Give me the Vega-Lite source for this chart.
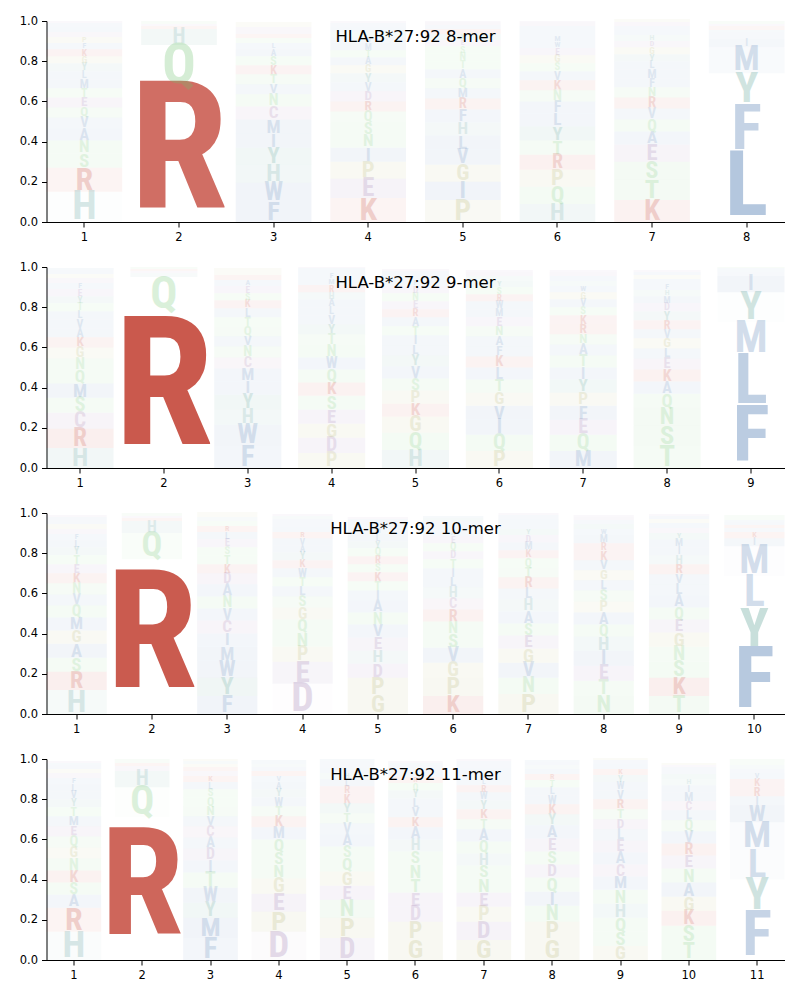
{
"$schema": "https://vega.github.io/schema/vega-lite/v6.json",
"background": "white",
"padding": {"left": 18.5, "top": 15, "right": 0, "bottom": 0},
"spacing": 45,
"bounds": "flush",
"datasets": {
"d8": [
{"pos":1,"aa":"H","p":0.15},{"pos":1,"aa":"R","p":0.12},{"pos":1,"aa":"S","p":0.07},{"pos":1,"aa":"N","p":0.065},{"pos":1,"aa":"A","p":0.06},{"pos":1,"aa":"V","p":0.055},{"pos":1,"aa":"Q","p":0.05},{"pos":1,"aa":"E","p":0.05},{"pos":1,"aa":"T","p":0.045},{"pos":1,"aa":"M","p":0.045},{"pos":1,"aa":"L","p":0.04},{"pos":1,"aa":"Y","p":0.04},{"pos":1,"aa":"G","p":0.035},{"pos":1,"aa":"K","p":0.035},{"pos":1,"aa":"F","p":0.03},{"pos":1,"aa":"P","p":0.03},{"pos":1,"aa":"D","p":0.025},{"pos":1,"aa":"I","p":0.025},{"pos":1,"aa":"W","p":0.02},{"pos":1,"aa":"C","p":0.01},
{"pos":2,"aa":"R","p":0.67},{"pos":2,"aa":"Q","p":0.21},{"pos":2,"aa":"H","p":0.08},{"pos":2,"aa":"K","p":0.015},{"pos":2,"aa":"E","p":0.01},{"pos":2,"aa":"N","p":0.01},{"pos":2,"aa":"S","p":0.005},
{"pos":3,"aa":"F","p":0.1},{"pos":3,"aa":"W","p":0.095},{"pos":3,"aa":"H","p":0.09},{"pos":3,"aa":"Y","p":0.085},{"pos":3,"aa":"I","p":0.07},{"pos":3,"aa":"M","p":0.07},{"pos":3,"aa":"C","p":0.065},{"pos":3,"aa":"N","p":0.06},{"pos":3,"aa":"V","p":0.05},{"pos":3,"aa":"T","p":0.05},{"pos":3,"aa":"K","p":0.045},{"pos":3,"aa":"S","p":0.045},{"pos":3,"aa":"A","p":0.035},{"pos":3,"aa":"L","p":0.03},{"pos":3,"aa":"Q","p":0.025},{"pos":3,"aa":"R","p":0.02},{"pos":3,"aa":"E","p":0.02},{"pos":3,"aa":"D","p":0.015},{"pos":3,"aa":"G","p":0.015},{"pos":3,"aa":"P","p":0.01},
{"pos":4,"aa":"K","p":0.12},{"pos":4,"aa":"E","p":0.095},{"pos":4,"aa":"P","p":0.085},{"pos":4,"aa":"I","p":0.07},{"pos":4,"aa":"N","p":0.065},{"pos":4,"aa":"S","p":0.06},{"pos":4,"aa":"Q","p":0.055},{"pos":4,"aa":"R","p":0.05},{"pos":4,"aa":"D","p":0.05},{"pos":4,"aa":"V","p":0.045},{"pos":4,"aa":"Y","p":0.045},{"pos":4,"aa":"G","p":0.04},{"pos":4,"aa":"A","p":0.04},{"pos":4,"aa":"T","p":0.035},{"pos":4,"aa":"M","p":0.035},{"pos":4,"aa":"W","p":0.03},{"pos":4,"aa":"H","p":0.025},{"pos":4,"aa":"L","p":0.025},{"pos":4,"aa":"F","p":0.02},{"pos":4,"aa":"C","p":0.01},
{"pos":5,"aa":"P","p":0.11},{"pos":5,"aa":"I","p":0.09},{"pos":5,"aa":"G","p":0.085},{"pos":5,"aa":"V","p":0.075},{"pos":5,"aa":"L","p":0.07},{"pos":5,"aa":"H","p":0.065},{"pos":5,"aa":"F","p":0.065},{"pos":5,"aa":"R","p":0.055},{"pos":5,"aa":"M","p":0.05},{"pos":5,"aa":"Q","p":0.05},{"pos":5,"aa":"A","p":0.045},{"pos":5,"aa":"T","p":0.04},{"pos":5,"aa":"N","p":0.04},{"pos":5,"aa":"S","p":0.035},{"pos":5,"aa":"E","p":0.03},{"pos":5,"aa":"Y","p":0.03},{"pos":5,"aa":"K","p":0.025},{"pos":5,"aa":"W","p":0.02},{"pos":5,"aa":"D","p":0.015},{"pos":5,"aa":"C","p":0.005},
{"pos":6,"aa":"H","p":0.09},{"pos":6,"aa":"Q","p":0.085},{"pos":6,"aa":"P","p":0.085},{"pos":6,"aa":"R","p":0.075},{"pos":6,"aa":"T","p":0.07},{"pos":6,"aa":"Y","p":0.07},{"pos":6,"aa":"L","p":0.065},{"pos":6,"aa":"F","p":0.06},{"pos":6,"aa":"N","p":0.055},{"pos":6,"aa":"K","p":0.05},{"pos":6,"aa":"V","p":0.045},{"pos":6,"aa":"S","p":0.04},{"pos":6,"aa":"G","p":0.04},{"pos":6,"aa":"E","p":0.035},{"pos":6,"aa":"W","p":0.03},{"pos":6,"aa":"M","p":0.03},{"pos":6,"aa":"A","p":0.025},{"pos":6,"aa":"I","p":0.025},{"pos":6,"aa":"D","p":0.02},{"pos":6,"aa":"C","p":0.005},
{"pos":7,"aa":"K","p":0.11},{"pos":7,"aa":"T","p":0.1},{"pos":7,"aa":"S","p":0.09},{"pos":7,"aa":"E","p":0.085},{"pos":7,"aa":"A","p":0.065},{"pos":7,"aa":"Q","p":0.06},{"pos":7,"aa":"V","p":0.055},{"pos":7,"aa":"R","p":0.055},{"pos":7,"aa":"N","p":0.05},{"pos":7,"aa":"F","p":0.045},{"pos":7,"aa":"M","p":0.045},{"pos":7,"aa":"L","p":0.04},{"pos":7,"aa":"Y","p":0.035},{"pos":7,"aa":"G","p":0.035},{"pos":7,"aa":"D","p":0.03},{"pos":7,"aa":"H","p":0.03},{"pos":7,"aa":"I","p":0.025},{"pos":7,"aa":"W","p":0.02},{"pos":7,"aa":"C","p":0.02},{"pos":7,"aa":"P","p":0.015},
{"pos":8,"aa":"L","p":0.34},{"pos":8,"aa":"F","p":0.24},{"pos":8,"aa":"Y","p":0.16},{"pos":8,"aa":"M","p":0.13},{"pos":8,"aa":"I","p":0.04},{"pos":8,"aa":"W","p":0.02},{"pos":8,"aa":"V","p":0.015},{"pos":8,"aa":"A","p":0.01},{"pos":8,"aa":"R","p":0.01},{"pos":8,"aa":"K","p":0.01},{"pos":8,"aa":"C","p":0.01},{"pos":8,"aa":"T","p":0.01},{"pos":8,"aa":"S","p":0.005}
],
"d9": [
{"pos":1,"aa":"H","p":0.1},{"pos":1,"aa":"R","p":0.095},{"pos":1,"aa":"C","p":0.08},{"pos":1,"aa":"S","p":0.075},{"pos":1,"aa":"M","p":0.07},{"pos":1,"aa":"Q","p":0.065},{"pos":1,"aa":"N","p":0.06},{"pos":1,"aa":"G","p":0.055},{"pos":1,"aa":"K","p":0.05},{"pos":1,"aa":"A","p":0.045},{"pos":1,"aa":"V","p":0.045},{"pos":1,"aa":"L","p":0.04},{"pos":1,"aa":"T","p":0.04},{"pos":1,"aa":"Y","p":0.035},{"pos":1,"aa":"E","p":0.035},{"pos":1,"aa":"F","p":0.03},{"pos":1,"aa":"D","p":0.025},{"pos":1,"aa":"P","p":0.02},{"pos":1,"aa":"I","p":0.02},{"pos":1,"aa":"W","p":0.01},
{"pos":2,"aa":"R","p":0.78},{"pos":2,"aa":"Q","p":0.17},{"pos":2,"aa":"H","p":0.02},{"pos":2,"aa":"E","p":0.01},{"pos":2,"aa":"K","p":0.01},{"pos":2,"aa":"S","p":0.01},
{"pos":3,"aa":"F","p":0.11},{"pos":3,"aa":"W","p":0.105},{"pos":3,"aa":"H","p":0.075},{"pos":3,"aa":"Y","p":0.075},{"pos":3,"aa":"I","p":0.065},{"pos":3,"aa":"M","p":0.065},{"pos":3,"aa":"C","p":0.055},{"pos":3,"aa":"N","p":0.055},{"pos":3,"aa":"V","p":0.05},{"pos":3,"aa":"Q","p":0.05},{"pos":3,"aa":"T","p":0.045},{"pos":3,"aa":"L","p":0.045},{"pos":3,"aa":"K","p":0.04},{"pos":3,"aa":"S","p":0.035},{"pos":3,"aa":"E","p":0.035},{"pos":3,"aa":"A","p":0.03},{"pos":3,"aa":"R","p":0.025},{"pos":3,"aa":"G","p":0.02},{"pos":3,"aa":"P","p":0.015},
{"pos":4,"aa":"P","p":0.075},{"pos":4,"aa":"D","p":0.075},{"pos":4,"aa":"G","p":0.07},{"pos":4,"aa":"E","p":0.07},{"pos":4,"aa":"S","p":0.07},{"pos":4,"aa":"K","p":0.065},{"pos":4,"aa":"Q","p":0.065},{"pos":4,"aa":"W","p":0.06},{"pos":4,"aa":"N","p":0.06},{"pos":4,"aa":"T","p":0.055},{"pos":4,"aa":"Y","p":0.05},{"pos":4,"aa":"V","p":0.045},{"pos":4,"aa":"L","p":0.04},{"pos":4,"aa":"A","p":0.04},{"pos":4,"aa":"H","p":0.035},{"pos":4,"aa":"R","p":0.035},{"pos":4,"aa":"M","p":0.03},{"pos":4,"aa":"F","p":0.03},{"pos":4,"aa":"I","p":0.025},{"pos":4,"aa":"C","p":0.005},
{"pos":5,"aa":"H","p":0.09},{"pos":5,"aa":"Q","p":0.085},{"pos":5,"aa":"G","p":0.08},{"pos":5,"aa":"K","p":0.065},{"pos":5,"aa":"P","p":0.065},{"pos":5,"aa":"S","p":0.06},{"pos":5,"aa":"V","p":0.06},{"pos":5,"aa":"Y","p":0.055},{"pos":5,"aa":"L","p":0.05},{"pos":5,"aa":"I","p":0.05},{"pos":5,"aa":"T","p":0.045},{"pos":5,"aa":"A","p":0.045},{"pos":5,"aa":"R","p":0.04},{"pos":5,"aa":"E","p":0.04},{"pos":5,"aa":"N","p":0.04},{"pos":5,"aa":"D","p":0.035},{"pos":5,"aa":"F","p":0.03},{"pos":5,"aa":"M","p":0.025},{"pos":5,"aa":"W","p":0.02},{"pos":5,"aa":"C","p":0.01},
{"pos":6,"aa":"P","p":0.085},{"pos":6,"aa":"Q","p":0.08},{"pos":6,"aa":"I","p":0.075},{"pos":6,"aa":"V","p":0.07},{"pos":6,"aa":"G","p":0.065},{"pos":6,"aa":"T","p":0.065},{"pos":6,"aa":"L","p":0.06},{"pos":6,"aa":"K","p":0.055},{"pos":6,"aa":"F","p":0.05},{"pos":6,"aa":"A","p":0.05},{"pos":6,"aa":"N","p":0.05},{"pos":6,"aa":"E","p":0.045},{"pos":6,"aa":"M","p":0.04},{"pos":6,"aa":"W","p":0.04},{"pos":6,"aa":"R","p":0.035},{"pos":6,"aa":"S","p":0.035},{"pos":6,"aa":"Y","p":0.03},{"pos":6,"aa":"H","p":0.025},{"pos":6,"aa":"D","p":0.02},{"pos":6,"aa":"C","p":0.01},
{"pos":7,"aa":"M","p":0.085},{"pos":7,"aa":"Q","p":0.08},{"pos":7,"aa":"E","p":0.075},{"pos":7,"aa":"F","p":0.07},{"pos":7,"aa":"P","p":0.065},{"pos":7,"aa":"Y","p":0.065},{"pos":7,"aa":"I","p":0.06},{"pos":7,"aa":"T","p":0.06},{"pos":7,"aa":"A","p":0.055},{"pos":7,"aa":"N","p":0.05},{"pos":7,"aa":"R","p":0.05},{"pos":7,"aa":"K","p":0.045},{"pos":7,"aa":"S","p":0.04},{"pos":7,"aa":"V","p":0.04},{"pos":7,"aa":"G","p":0.035},{"pos":7,"aa":"W","p":0.03},{"pos":7,"aa":"H","p":0.025},{"pos":7,"aa":"L","p":0.025},{"pos":7,"aa":"D","p":0.02},{"pos":7,"aa":"C","p":0.01},
{"pos":8,"aa":"T","p":0.11},{"pos":8,"aa":"S","p":0.1},{"pos":8,"aa":"N","p":0.09},{"pos":8,"aa":"Q","p":0.07},{"pos":8,"aa":"A","p":0.06},{"pos":8,"aa":"K","p":0.06},{"pos":8,"aa":"E","p":0.055},{"pos":8,"aa":"L","p":0.05},{"pos":8,"aa":"G","p":0.05},{"pos":8,"aa":"V","p":0.045},{"pos":8,"aa":"R","p":0.045},{"pos":8,"aa":"Y","p":0.045},{"pos":8,"aa":"D","p":0.04},{"pos":8,"aa":"M","p":0.035},{"pos":8,"aa":"H","p":0.03},{"pos":8,"aa":"F","p":0.03},{"pos":8,"aa":"I","p":0.025},{"pos":8,"aa":"P","p":0.02},{"pos":8,"aa":"W","p":0.015},{"pos":8,"aa":"C","p":0.01},
{"pos":9,"aa":"F","p":0.295},{"pos":9,"aa":"L","p":0.265},{"pos":9,"aa":"M","p":0.165},{"pos":9,"aa":"Y","p":0.15},{"pos":9,"aa":"I","p":0.08},{"pos":9,"aa":"V","p":0.02},{"pos":9,"aa":"W","p":0.01},{"pos":9,"aa":"A","p":0.01},{"pos":9,"aa":"T","p":0.005}
],
"d10": [
{"pos":1,"aa":"H","p":0.12},{"pos":1,"aa":"R","p":0.09},{"pos":1,"aa":"S","p":0.07},{"pos":1,"aa":"A","p":0.07},{"pos":1,"aa":"G","p":0.065},{"pos":1,"aa":"M","p":0.065},{"pos":1,"aa":"Q","p":0.06},{"pos":1,"aa":"V","p":0.055},{"pos":1,"aa":"N","p":0.055},{"pos":1,"aa":"K","p":0.05},{"pos":1,"aa":"E","p":0.045},{"pos":1,"aa":"T","p":0.045},{"pos":1,"aa":"Y","p":0.04},{"pos":1,"aa":"L","p":0.035},{"pos":1,"aa":"F","p":0.03},{"pos":1,"aa":"D","p":0.025},{"pos":1,"aa":"P","p":0.025},{"pos":1,"aa":"I","p":0.02},{"pos":1,"aa":"W","p":0.015},{"pos":1,"aa":"C","p":0.01},
{"pos":2,"aa":"R","p":0.77},{"pos":2,"aa":"Q","p":0.13},{"pos":2,"aa":"H","p":0.06},{"pos":2,"aa":"K","p":0.015},{"pos":2,"aa":"E","p":0.01},{"pos":2,"aa":"N","p":0.01},{"pos":2,"aa":"S","p":0.005},
{"pos":3,"aa":"F","p":0.09},{"pos":3,"aa":"Y","p":0.09},{"pos":3,"aa":"W","p":0.085},{"pos":3,"aa":"M","p":0.07},{"pos":3,"aa":"I","p":0.065},{"pos":3,"aa":"C","p":0.065},{"pos":3,"aa":"V","p":0.06},{"pos":3,"aa":"N","p":0.06},{"pos":3,"aa":"A","p":0.06},{"pos":3,"aa":"D","p":0.055},{"pos":3,"aa":"K","p":0.045},{"pos":3,"aa":"T","p":0.045},{"pos":3,"aa":"S","p":0.04},{"pos":3,"aa":"E","p":0.04},{"pos":3,"aa":"L","p":0.035},{"pos":3,"aa":"R","p":0.03},{"pos":3,"aa":"Q","p":0.025},{"pos":3,"aa":"H","p":0.02},{"pos":3,"aa":"G","p":0.015},{"pos":3,"aa":"P","p":0.01},
{"pos":4,"aa":"D","p":0.15},{"pos":4,"aa":"E","p":0.11},{"pos":4,"aa":"P","p":0.075},{"pos":4,"aa":"N","p":0.07},{"pos":4,"aa":"Q","p":0.065},{"pos":4,"aa":"G","p":0.06},{"pos":4,"aa":"S","p":0.055},{"pos":4,"aa":"L","p":0.05},{"pos":4,"aa":"T","p":0.045},{"pos":4,"aa":"W","p":0.045},{"pos":4,"aa":"K","p":0.04},{"pos":4,"aa":"Y","p":0.04},{"pos":4,"aa":"A","p":0.035},{"pos":4,"aa":"V","p":0.035},{"pos":4,"aa":"R","p":0.03},{"pos":4,"aa":"M","p":0.025},{"pos":4,"aa":"I","p":0.02},{"pos":4,"aa":"F","p":0.02},{"pos":4,"aa":"H","p":0.015},{"pos":4,"aa":"C","p":0.01},
{"pos":5,"aa":"G","p":0.09},{"pos":5,"aa":"P","p":0.09},{"pos":5,"aa":"D","p":0.07},{"pos":5,"aa":"H","p":0.065},{"pos":5,"aa":"E","p":0.065},{"pos":5,"aa":"V","p":0.065},{"pos":5,"aa":"N","p":0.06},{"pos":5,"aa":"A","p":0.06},{"pos":5,"aa":"I","p":0.05},{"pos":5,"aa":"T","p":0.045},{"pos":5,"aa":"K","p":0.045},{"pos":5,"aa":"S","p":0.04},{"pos":5,"aa":"R","p":0.04},{"pos":5,"aa":"Q","p":0.04},{"pos":5,"aa":"Y","p":0.035},{"pos":5,"aa":"L","p":0.035},{"pos":5,"aa":"M","p":0.03},{"pos":5,"aa":"F","p":0.025},{"pos":5,"aa":"W","p":0.02},{"pos":5,"aa":"C","p":0.01},
{"pos":6,"aa":"K","p":0.09},{"pos":6,"aa":"P","p":0.09},{"pos":6,"aa":"G","p":0.075},{"pos":6,"aa":"V","p":0.075},{"pos":6,"aa":"S","p":0.07},{"pos":6,"aa":"N","p":0.06},{"pos":6,"aa":"R","p":0.06},{"pos":6,"aa":"C","p":0.055},{"pos":6,"aa":"H","p":0.055},{"pos":6,"aa":"L","p":0.05},{"pos":6,"aa":"I","p":0.045},{"pos":6,"aa":"T","p":0.045},{"pos":6,"aa":"D","p":0.04},{"pos":6,"aa":"Q","p":0.04},{"pos":6,"aa":"E","p":0.035},{"pos":6,"aa":"A","p":0.03},{"pos":6,"aa":"M","p":0.025},{"pos":6,"aa":"F","p":0.02},{"pos":6,"aa":"Y","p":0.015},{"pos":6,"aa":"W","p":0.01},
{"pos":7,"aa":"P","p":0.1},{"pos":7,"aa":"N","p":0.08},{"pos":7,"aa":"V","p":0.075},{"pos":7,"aa":"G","p":0.07},{"pos":7,"aa":"E","p":0.065},{"pos":7,"aa":"S","p":0.06},{"pos":7,"aa":"A","p":0.06},{"pos":7,"aa":"H","p":0.06},{"pos":7,"aa":"L","p":0.055},{"pos":7,"aa":"R","p":0.055},{"pos":7,"aa":"T","p":0.05},{"pos":7,"aa":"Q","p":0.045},{"pos":7,"aa":"K","p":0.04},{"pos":7,"aa":"M","p":0.04},{"pos":7,"aa":"D","p":0.035},{"pos":7,"aa":"Y","p":0.03},{"pos":7,"aa":"W","p":0.025},{"pos":7,"aa":"F","p":0.025},{"pos":7,"aa":"I","p":0.02},{"pos":7,"aa":"C","p":0.01},
{"pos":8,"aa":"N","p":0.09},{"pos":8,"aa":"T","p":0.075},{"pos":8,"aa":"E","p":0.075},{"pos":8,"aa":"I","p":0.075},{"pos":8,"aa":"H","p":0.07},{"pos":8,"aa":"Q","p":0.06},{"pos":8,"aa":"A","p":0.06},{"pos":8,"aa":"P","p":0.055},{"pos":8,"aa":"S","p":0.055},{"pos":8,"aa":"L","p":0.05},{"pos":8,"aa":"G","p":0.05},{"pos":8,"aa":"V","p":0.05},{"pos":8,"aa":"K","p":0.045},{"pos":8,"aa":"R","p":0.04},{"pos":8,"aa":"M","p":0.04},{"pos":8,"aa":"W","p":0.03},{"pos":8,"aa":"Y","p":0.025},{"pos":8,"aa":"F","p":0.02},{"pos":8,"aa":"D","p":0.015},{"pos":8,"aa":"C","p":0.01},
{"pos":9,"aa":"T","p":0.09},{"pos":9,"aa":"K","p":0.09},{"pos":9,"aa":"S","p":0.08},{"pos":9,"aa":"N","p":0.075},{"pos":9,"aa":"G","p":0.07},{"pos":9,"aa":"E","p":0.065},{"pos":9,"aa":"Q","p":0.06},{"pos":9,"aa":"A","p":0.06},{"pos":9,"aa":"L","p":0.055},{"pos":9,"aa":"V","p":0.05},{"pos":9,"aa":"R","p":0.05},{"pos":9,"aa":"H","p":0.045},{"pos":9,"aa":"I","p":0.04},{"pos":9,"aa":"M","p":0.04},{"pos":9,"aa":"Y","p":0.03},{"pos":9,"aa":"D","p":0.025},{"pos":9,"aa":"F","p":0.025},{"pos":9,"aa":"P","p":0.02},{"pos":9,"aa":"W","p":0.015},{"pos":9,"aa":"C","p":0.01},
{"pos":10,"aa":"F","p":0.32},{"pos":10,"aa":"Y","p":0.2},{"pos":10,"aa":"L","p":0.165},{"pos":10,"aa":"M","p":0.15},{"pos":10,"aa":"I","p":0.04},{"pos":10,"aa":"K","p":0.03},{"pos":10,"aa":"W","p":0.02},{"pos":10,"aa":"R","p":0.015},{"pos":10,"aa":"V","p":0.015},{"pos":10,"aa":"A","p":0.01},{"pos":10,"aa":"T","p":0.01},{"pos":10,"aa":"S","p":0.01},{"pos":10,"aa":"Q","p":0.005}
],
"d11": [
{"pos":1,"aa":"H","p":0.14},{"pos":1,"aa":"R","p":0.12},{"pos":1,"aa":"A","p":0.065},{"pos":1,"aa":"S","p":0.06},{"pos":1,"aa":"K","p":0.06},{"pos":1,"aa":"N","p":0.06},{"pos":1,"aa":"G","p":0.055},{"pos":1,"aa":"Q","p":0.055},{"pos":1,"aa":"E","p":0.05},{"pos":1,"aa":"M","p":0.05},{"pos":1,"aa":"T","p":0.045},{"pos":1,"aa":"Y","p":0.04},{"pos":1,"aa":"V","p":0.04},{"pos":1,"aa":"L","p":0.035},{"pos":1,"aa":"F","p":0.03},{"pos":1,"aa":"D","p":0.025},{"pos":1,"aa":"P","p":0.02},{"pos":1,"aa":"I","p":0.02},{"pos":1,"aa":"W","p":0.01},{"pos":1,"aa":"C","p":0.01},
{"pos":2,"aa":"R","p":0.71},{"pos":2,"aa":"Q","p":0.15},{"pos":2,"aa":"H","p":0.08},{"pos":2,"aa":"E","p":0.025},{"pos":2,"aa":"K","p":0.015},{"pos":2,"aa":"N","p":0.01},{"pos":2,"aa":"S","p":0.01},
{"pos":3,"aa":"F","p":0.11},{"pos":3,"aa":"M","p":0.1},{"pos":3,"aa":"Y","p":0.075},{"pos":3,"aa":"W","p":0.075},{"pos":3,"aa":"T","p":0.075},{"pos":3,"aa":"I","p":0.06},{"pos":3,"aa":"D","p":0.06},{"pos":3,"aa":"A","p":0.055},{"pos":3,"aa":"C","p":0.055},{"pos":3,"aa":"V","p":0.05},{"pos":3,"aa":"N","p":0.05},{"pos":3,"aa":"Q","p":0.045},{"pos":3,"aa":"S","p":0.04},{"pos":3,"aa":"L","p":0.035},{"pos":3,"aa":"K","p":0.03},{"pos":3,"aa":"E","p":0.025},{"pos":3,"aa":"R","p":0.02},{"pos":3,"aa":"G","p":0.015},{"pos":3,"aa":"H","p":0.015},{"pos":3,"aa":"P","p":0.01},
{"pos":4,"aa":"D","p":0.14},{"pos":4,"aa":"P","p":0.1},{"pos":4,"aa":"E","p":0.09},{"pos":4,"aa":"G","p":0.075},{"pos":4,"aa":"N","p":0.065},{"pos":4,"aa":"S","p":0.065},{"pos":4,"aa":"Q","p":0.065},{"pos":4,"aa":"M","p":0.06},{"pos":4,"aa":"K","p":0.055},{"pos":4,"aa":"T","p":0.05},{"pos":4,"aa":"W","p":0.045},{"pos":4,"aa":"Y","p":0.04},{"pos":4,"aa":"A","p":0.035},{"pos":4,"aa":"V","p":0.03},{"pos":4,"aa":"R","p":0.025},{"pos":4,"aa":"L","p":0.02},{"pos":4,"aa":"H","p":0.015},{"pos":4,"aa":"F","p":0.01},{"pos":4,"aa":"I","p":0.01},
{"pos":5,"aa":"D","p":0.11},{"pos":5,"aa":"P","p":0.1},{"pos":5,"aa":"N","p":0.09},{"pos":5,"aa":"E","p":0.07},{"pos":5,"aa":"G","p":0.07},{"pos":5,"aa":"Q","p":0.065},{"pos":5,"aa":"S","p":0.06},{"pos":5,"aa":"A","p":0.06},{"pos":5,"aa":"V","p":0.055},{"pos":5,"aa":"T","p":0.05},{"pos":5,"aa":"Y","p":0.05},{"pos":5,"aa":"K","p":0.045},{"pos":5,"aa":"R","p":0.04},{"pos":5,"aa":"L","p":0.035},{"pos":5,"aa":"H","p":0.03},{"pos":5,"aa":"I","p":0.025},{"pos":5,"aa":"M","p":0.02},{"pos":5,"aa":"F","p":0.015},{"pos":5,"aa":"W","p":0.01},
{"pos":6,"aa":"G","p":0.1},{"pos":6,"aa":"P","p":0.09},{"pos":6,"aa":"D","p":0.075},{"pos":6,"aa":"E","p":0.07},{"pos":6,"aa":"T","p":0.07},{"pos":6,"aa":"N","p":0.07},{"pos":6,"aa":"S","p":0.065},{"pos":6,"aa":"H","p":0.06},{"pos":6,"aa":"A","p":0.06},{"pos":6,"aa":"K","p":0.05},{"pos":6,"aa":"V","p":0.05},{"pos":6,"aa":"L","p":0.045},{"pos":6,"aa":"Y","p":0.04},{"pos":6,"aa":"Q","p":0.035},{"pos":6,"aa":"R","p":0.03},{"pos":6,"aa":"M","p":0.025},{"pos":6,"aa":"F","p":0.02},{"pos":6,"aa":"I","p":0.015},{"pos":6,"aa":"W","p":0.01},{"pos":6,"aa":"C","p":0.01},
{"pos":7,"aa":"G","p":0.1},{"pos":7,"aa":"D","p":0.09},{"pos":7,"aa":"P","p":0.075},{"pos":7,"aa":"E","p":0.07},{"pos":7,"aa":"N","p":0.07},{"pos":7,"aa":"S","p":0.065},{"pos":7,"aa":"H","p":0.06},{"pos":7,"aa":"Q","p":0.06},{"pos":7,"aa":"A","p":0.06},{"pos":7,"aa":"T","p":0.05},{"pos":7,"aa":"K","p":0.05},{"pos":7,"aa":"Y","p":0.045},{"pos":7,"aa":"W","p":0.04},{"pos":7,"aa":"R","p":0.035},{"pos":7,"aa":"L","p":0.03},{"pos":7,"aa":"V","p":0.03},{"pos":7,"aa":"M","p":0.025},{"pos":7,"aa":"F","p":0.02},{"pos":7,"aa":"I","p":0.015},{"pos":7,"aa":"C","p":0.01},
{"pos":8,"aa":"G","p":0.1},{"pos":8,"aa":"P","p":0.09},{"pos":8,"aa":"N","p":0.08},{"pos":8,"aa":"I","p":0.07},{"pos":8,"aa":"Q","p":0.07},{"pos":8,"aa":"D","p":0.065},{"pos":8,"aa":"S","p":0.065},{"pos":8,"aa":"E","p":0.065},{"pos":8,"aa":"A","p":0.065},{"pos":8,"aa":"Y","p":0.055},{"pos":8,"aa":"K","p":0.05},{"pos":8,"aa":"W","p":0.045},{"pos":8,"aa":"L","p":0.04},{"pos":8,"aa":"T","p":0.035},{"pos":8,"aa":"R","p":0.03},{"pos":8,"aa":"V","p":0.025},{"pos":8,"aa":"H","p":0.02},{"pos":8,"aa":"M","p":0.015},{"pos":8,"aa":"F","p":0.01},
{"pos":9,"aa":"G","p":0.07},{"pos":9,"aa":"S","p":0.07},{"pos":9,"aa":"Q","p":0.07},{"pos":9,"aa":"H","p":0.07},{"pos":9,"aa":"N","p":0.07},{"pos":9,"aa":"M","p":0.065},{"pos":9,"aa":"C","p":0.06},{"pos":9,"aa":"A","p":0.06},{"pos":9,"aa":"E","p":0.06},{"pos":9,"aa":"L","p":0.055},{"pos":9,"aa":"D","p":0.05},{"pos":9,"aa":"T","p":0.05},{"pos":9,"aa":"R","p":0.05},{"pos":9,"aa":"V","p":0.045},{"pos":9,"aa":"W","p":0.04},{"pos":9,"aa":"Y","p":0.035},{"pos":9,"aa":"K","p":0.03},{"pos":9,"aa":"I","p":0.025},{"pos":9,"aa":"F","p":0.02},{"pos":9,"aa":"P","p":0.01},
{"pos":10,"aa":"T","p":0.085},{"pos":10,"aa":"S","p":0.085},{"pos":10,"aa":"K","p":0.075},{"pos":10,"aa":"G","p":0.07},{"pos":10,"aa":"A","p":0.07},{"pos":10,"aa":"N","p":0.07},{"pos":10,"aa":"E","p":0.065},{"pos":10,"aa":"R","p":0.06},{"pos":10,"aa":"V","p":0.06},{"pos":10,"aa":"Q","p":0.055},{"pos":10,"aa":"L","p":0.05},{"pos":10,"aa":"C","p":0.045},{"pos":10,"aa":"M","p":0.045},{"pos":10,"aa":"I","p":0.035},{"pos":10,"aa":"H","p":0.03},{"pos":10,"aa":"Y","p":0.025},{"pos":10,"aa":"W","p":0.02},{"pos":10,"aa":"F","p":0.015},{"pos":10,"aa":"D","p":0.01},{"pos":10,"aa":"P","p":0.01},
{"pos":11,"aa":"F","p":0.235},{"pos":11,"aa":"Y","p":0.165},{"pos":11,"aa":"L","p":0.145},{"pos":11,"aa":"M","p":0.14},{"pos":11,"aa":"W","p":0.085},{"pos":11,"aa":"I","p":0.045},{"pos":11,"aa":"R","p":0.045},{"pos":11,"aa":"K","p":0.04},{"pos":11,"aa":"V","p":0.03},{"pos":11,"aa":"A","p":0.02},{"pos":11,"aa":"H","p":0.02},{"pos":11,"aa":"T","p":0.015},{"pos":11,"aa":"Q","p":0.01},{"pos":11,"aa":"S","p":0.005}
]
},
"resolve": {"scale": {"x": "independent", "y": "independent", "size": "independent", "opacity": "independent", "fillOpacity": "independent", "color": "shared"}},
"vconcat": [
{
"width": 738, "height": 201,
"data": {"name": "d8"},
"title": {"text": "HLA-B*27:92 8-mer"},
"transform": [
{"stack": "p", "groupby": ["pos"], "sort": [{"field": "p", "order": "descending"}], "as": ["y0", "y1"]},
{"calculate": "(datum.y0 + datum.y1) / 2", "as": "ym"}
],
"encoding": {
"x": {"field": "pos", "type": "ordinal", "scale": {"type": "band", "paddingInner": 0.2, "paddingOuter": 0}, "axis": {"labelAngle": 0, "title": null}},
"color": {"field": "aa", "type": "nominal", "scale": {"domain": ["A","C","D","E","F","G","H","I","K","L","M","N","P","Q","R","S","T","V","W","Y"], "range": ["#4a78b0","#9a6aa0","#8e66a3","#8e66a3","#4a78b0","#a8a85a","#5a9c9a","#4a78b0","#c0392b","#4a78b0","#4a78b0","#6ec46e","#a8a85a","#6ec46e","#c0392b","#6ec46e","#6ec46e","#4a78b0","#4a78b0","#3d9082"]}, "legend": null}
},
"layer": [
{"mark": {"type": "bar"}, "encoding": {
"y": {"field": "y0", "type": "quantitative", "scale": {"domain": [0, 1]}, "axis": {"values": [0, 0.2, 0.4, 0.6, 0.8, 1], "format": ".1f", "title": null}},
"y2": {"field": "y1"},
"fillOpacity": {"field": "p", "type": "quantitative", "scale": {"domain": [0, 0.1, 0.16, 1], "range": [0.045, 0.08, 0, 0]}, "legend": null}}},
{"transform": [{"filter": "datum.p >= 0.03"}],
"mark": {"type": "text", "font": "Noto Sans ExtraCondensed, Noto Sans Condensed, Roboto Condensed, DejaVu Sans Condensed, DejaVu Sans", "fontWeight": "bold", "baseline": "middle"},
"encoding": {
"y": {"field": "ym", "type": "quantitative", "title": null},
"text": {"field": "aa"},
"size": {"field": "p", "type": "quantitative", "scale": {"domain": [0, 0.8], "range": [0, 212], "clamp": true}, "legend": null},
"opacity": {"field": "p", "type": "quantitative", "scale": {"domain": [0, 0.95], "range": [0.085, 1]}, "legend": null}}}
]
},
{
"width": 738, "height": 201,
"data": {"name": "d9"},
"title": {"text": "HLA-B*27:92 9-mer"},
"transform": [
{"stack": "p", "groupby": ["pos"], "sort": [{"field": "p", "order": "descending"}], "as": ["y0", "y1"]},
{"calculate": "(datum.y0 + datum.y1) / 2", "as": "ym"}
],
"encoding": {
"x": {"field": "pos", "type": "ordinal", "scale": {"type": "band", "paddingInner": 0.2, "paddingOuter": 0}, "axis": {"labelAngle": 0, "title": null}},
"color": {"field": "aa", "type": "nominal", "legend": null}
},
"layer": [
{"mark": {"type": "bar"}, "encoding": {
"y": {"field": "y0", "type": "quantitative", "scale": {"domain": [0, 1]}, "axis": {"values": [0, 0.2, 0.4, 0.6, 0.8, 1], "format": ".1f", "title": null}},
"y2": {"field": "y1"},
"fillOpacity": {"field": "p", "type": "quantitative", "scale": {"domain": [0, 0.1, 0.16, 1], "range": [0.045, 0.08, 0, 0]}, "legend": null}}},
{"transform": [{"filter": "datum.p >= 0.03"}],
"mark": {"type": "text", "font": "Noto Sans ExtraCondensed, Noto Sans Condensed, Roboto Condensed, DejaVu Sans Condensed, DejaVu Sans", "fontWeight": "bold", "baseline": "middle"},
"encoding": {
"y": {"field": "ym", "type": "quantitative", "title": null},
"text": {"field": "aa"},
"size": {"field": "p", "type": "quantitative", "scale": {"domain": [0, 0.68], "range": [0, 180], "clamp": true}, "legend": null},
"opacity": {"field": "p", "type": "quantitative", "scale": {"domain": [0, 0.95], "range": [0.085, 1]}, "legend": null}}}
]
},
{
"width": 738, "height": 201,
"data": {"name": "d10"},
"title": {"text": "HLA-B*27:92 10-mer"},
"transform": [
{"stack": "p", "groupby": ["pos"], "sort": [{"field": "p", "order": "descending"}], "as": ["y0", "y1"]},
{"calculate": "(datum.y0 + datum.y1) / 2", "as": "ym"}
],
"encoding": {
"x": {"field": "pos", "type": "ordinal", "scale": {"type": "band", "paddingInner": 0.2, "paddingOuter": 0}, "axis": {"labelAngle": 0, "title": null}},
"color": {"field": "aa", "type": "nominal", "legend": null}
},
"layer": [
{"mark": {"type": "bar"}, "encoding": {
"y": {"field": "y0", "type": "quantitative", "scale": {"domain": [0, 1]}, "axis": {"values": [0, 0.2, 0.4, 0.6, 0.8, 1], "format": ".1f", "title": null}},
"y2": {"field": "y1"},
"fillOpacity": {"field": "p", "type": "quantitative", "scale": {"domain": [0, 0.1, 0.16, 1], "range": [0.045, 0.08, 0, 0]}, "legend": null}}},
{"transform": [{"filter": "datum.p >= 0.03"}],
"mark": {"type": "text", "font": "Noto Sans ExtraCondensed, Noto Sans Condensed, Roboto Condensed, DejaVu Sans Condensed, DejaVu Sans", "fontWeight": "bold", "baseline": "middle"},
"encoding": {
"y": {"field": "ym", "type": "quantitative", "title": null},
"text": {"field": "aa"},
"size": {"field": "p", "type": "quantitative", "scale": {"domain": [0, 0.623], "range": [0, 165], "clamp": true}, "legend": null},
"opacity": {"field": "p", "type": "quantitative", "scale": {"domain": [0, 0.95], "range": [0.085, 1]}, "legend": null}}}
]
},
{
"width": 738, "height": 201,
"data": {"name": "d11"},
"title": {"text": "HLA-B*27:92 11-mer"},
"transform": [
{"stack": "p", "groupby": ["pos"], "sort": [{"field": "p", "order": "descending"}], "as": ["y0", "y1"]},
{"calculate": "(datum.y0 + datum.y1) / 2", "as": "ym"}
],
"encoding": {
"x": {"field": "pos", "type": "ordinal", "scale": {"type": "band", "paddingInner": 0.2, "paddingOuter": 0}, "axis": {"labelAngle": 0, "title": null}},
"color": {"field": "aa", "type": "nominal", "legend": null}
},
"layer": [
{"mark": {"type": "bar"}, "encoding": {
"y": {"field": "y0", "type": "quantitative", "scale": {"domain": [0, 1]}, "axis": {"values": [0, 0.2, 0.4, 0.6, 0.8, 1], "format": ".1f", "title": null}},
"y2": {"field": "y1"},
"fillOpacity": {"field": "p", "type": "quantitative", "scale": {"domain": [0, 0.1, 0.16, 1], "range": [0.045, 0.08, 0, 0]}, "legend": null}}},
{"transform": [{"filter": "datum.p >= 0.03"}],
"mark": {"type": "text", "font": "Noto Sans ExtraCondensed, Noto Sans Condensed, Roboto Condensed, DejaVu Sans Condensed, DejaVu Sans", "fontWeight": "bold", "baseline": "middle"},
"encoding": {
"y": {"field": "ym", "type": "quantitative", "title": null},
"text": {"field": "aa"},
"size": {"field": "p", "type": "quantitative", "scale": {"domain": [0, 0.566], "range": [0, 150], "clamp": true}, "legend": null},
"opacity": {"field": "p", "type": "quantitative", "scale": {"domain": [0, 0.95], "range": [0.085, 1]}, "legend": null}}}
]
}
],
"config": {
"view": {"stroke": null},
"axis": {"grid": false, "domainColor": "black", "tickColor": "black", "labelColor": "black", "labelFont": "DejaVu Sans", "labelFontSize": 11.5, "tickSize": 5, "labelPadding": 4},
"title": {"offset": -30, "baseline": "alphabetic", "fontSize": 16.5, "fontWeight": "normal", "font": "DejaVu Sans", "color": "black", "anchor": "middle", "frame": "group"}
}
}
